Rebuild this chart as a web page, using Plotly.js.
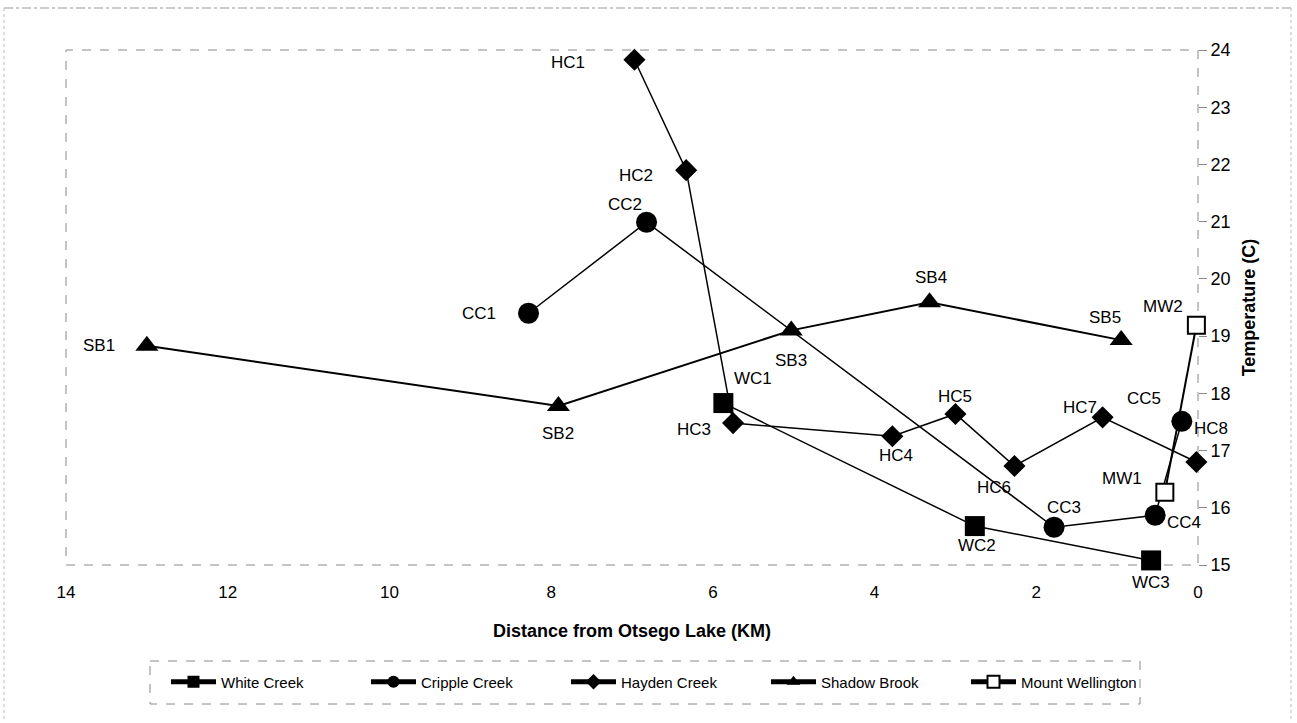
<!DOCTYPE html>
<html>
<head>
<meta charset="utf-8">
<script src="https://cdn.plot.ly/plotly-3.0.1.min.js"></script>
<style>html,body{margin:0;padding:0;background:#fff;}#chart{width:1297px;height:723px;}</style>
</head>
<body>
<div id="chart"></div>
<script>
// Data
const whiteDist = [5.87, 2.76, 0.58];
const whiteTemp = [17.83, 15.68, 15.08];
const whiteLabels = ["WC1", "WC2", "WC3"];

const crippleDist = [8.28, 6.82, 1.78, 0.53, 0.20];
const crippleTemp = [19.40, 20.99, 15.66, 15.87, 17.51];
const crippleLabels = ["CC1", "CC2", "CC3", "CC4", "CC5"];

const haydenDist = [6.97, 6.33, 5.75, 3.78, 3.00, 2.27, 1.18, 0.02];
const haydenTemp = [23.83, 21.90, 17.48, 17.25, 17.64, 16.73, 17.58, 16.80];
const haydenLabels = ["HC1", "HC2", "HC3", "HC4", "HC5", "HC6", "HC7", "HC8"];

const shadowDist = [13.0, 7.91, 5.03, 3.32, 0.95];
const shadowTemp = [18.83, 17.78, 19.10, 19.59, 18.93];
const shadowLabels = ["SB1", "SB2", "SB3", "SB4", "SB5"];

const mountDist = [0.41, 0.02];
const mountTemp = [16.27, 19.19];
const mountLabels = ["MW1", "MW2"];

const xTicks = [14, 12, 10, 8, 6, 4, 2, 0];
const yTicks = [15, 16, 17, 18, 19, 20, 21, 22, 23, 24];

// label offsets (pixels, text centre relative to marker centre; +dy = down)
const whiteOff = [[30, -25], [2, 19], [0, 22]];
const crippleOff = [[-50, 0], [-22, -18], [10, -20], [29, 7], [-38, -23]];
const haydenOff = [[-66, 3], [-50, 5], [-39, 6], [4, 19], [0, -17], [-20, 21], [-23, -10], [15, -34]];
const shadowOff = [[-48, 0], [0, 28], [0, 30], [1, -25], [-16, -23]];
const mountOff = [[-43, -14], [-33, -19]];

const FONT = "Liberation Sans, Arial, sans-serif";

function series(name, x, y, symbol, size, fill, lw) {
  return {
    type: "scatter", mode: "lines+markers", name: name,
    x: x, y: y,
    line: {color: "#000", width: lw},
    marker: {symbol: symbol, size: size, color: fill, line: {color: "#000", width: fill === "#fff" ? 2 : 0}},
    cliponaxis: false
  };
}

const traces = [
  series("White Creek", whiteDist, whiteTemp, "square", 20, "#000", 1.5),
  series("Cripple Creek", crippleDist, crippleTemp, "circle", 21, "#000", 1.5),
  series("Hayden Creek", haydenDist, haydenTemp, "diamond", 17, "#000", 1.5),
  series("Shadow Brook", shadowDist, shadowTemp, "triangle-up", 20, "#000", 2),
  series("Mount Wellington", mountDist, mountTemp, "square", 17, "#fff", 2)
];

function labelAnns(x, y, labels, off) {
  return labels.map((t, i) => ({
    x: x[i], y: y[i], xref: "x", yref: "y", text: t, showarrow: false,
    xanchor: "center", yanchor: "middle", xshift: off[i][0], yshift: -off[i][1],
    font: {family: FONT, size: 17, color: "#000"}
  }));
}

const annotations = [].concat(
  labelAnns(whiteDist, whiteTemp, whiteLabels, whiteOff),
  labelAnns(crippleDist, crippleTemp, crippleLabels, crippleOff),
  labelAnns(haydenDist, haydenTemp, haydenLabels, haydenOff),
  labelAnns(shadowDist, shadowTemp, shadowLabels, shadowOff),
  labelAnns(mountDist, mountTemp, mountLabels, mountOff)
);

const L = 66, R = 1198, T = 50, B = 565;
const W = R - L, H = B - T;
function px(xp) { return (xp - L) / W; }
function py(yp) { return (B - yp) / H; }

const layout = {
  width: 1297, height: 723,
  paper_bgcolor: "#fff", plot_bgcolor: "#fff",
  margin: {l: L, r: 1297 - R, t: T, b: 723 - B},
  font: {family: FONT, color: "#000", size: 17},
  showlegend: true,
  xaxis: {
    range: [14, 0], tickvals: xTicks, ticktext: xTicks.map(String),
    showgrid: false, zeroline: false, showline: false,
    ticks: "outside", ticklen: 12, tickcolor: "rgba(0,0,0,0)",
    tickfont: {family: FONT, size: 17},
    title: {text: "<b>Distance from Otsego Lake (KM)</b>", font: {family: FONT, size: 18}, standoff: 22},
    automargin: false
  },
  yaxis: {
    range: [15, 24], side: "right", tickvals: yTicks, ticktext: yTicks.map(String),
    showgrid: false, zeroline: false, showline: false,
    ticks: "outside", ticklen: 8, tickcolor: "#888",
    tickfont: {family: FONT, size: 18},
    title: {text: "<b>Temperature (C)</b>", font: {family: FONT, size: 18}, standoff: 12},
    automargin: false
  },
  legend: {
    orientation: "h", x: px(166), xanchor: "left", y: py(682), yanchor: "middle",
    font: {family: FONT, size: 15}, bgcolor: "rgba(0,0,0,0)",
    entrywidth: 140, entrywidthmode: "pixels", itemwidth: 45, itemsizing: "constant"
  },
  annotations: annotations,
  shapes: [
    {type: "rect", xref: "paper", yref: "paper", x0: 0, x1: 1, y0: 0, y1: 1,
     line: {color: "#888", width: 1, dash: "dash"}, layer: "below"},
    {type: "rect", xref: "paper", yref: "paper", x0: px(150), x1: px(1140), y0: py(661), y1: py(704),
     line: {color: "#888", width: 1, dash: "dash"}},
    {type: "line", xref: "paper", yref: "paper", x0: px(4), x1: px(1292), y0: py(8), y1: py(8),
     line: {color: "#999", width: 1, dash: "dashdot"}},
    {type: "line", xref: "paper", yref: "paper", x0: px(4), x1: px(4), y0: py(8), y1: py(719),
     line: {color: "#bbb", width: 1, dash: "dot"}},
    {type: "line", xref: "paper", yref: "paper", x0: px(1291), x1: px(1291), y0: py(8), y1: py(719),
     line: {color: "#bbb", width: 1, dash: "dot"}}
  ]
};

Plotly.newPlot("chart", traces, layout, {displayModeBar: false, staticPlot: true});
</script>
</body>
</html>
